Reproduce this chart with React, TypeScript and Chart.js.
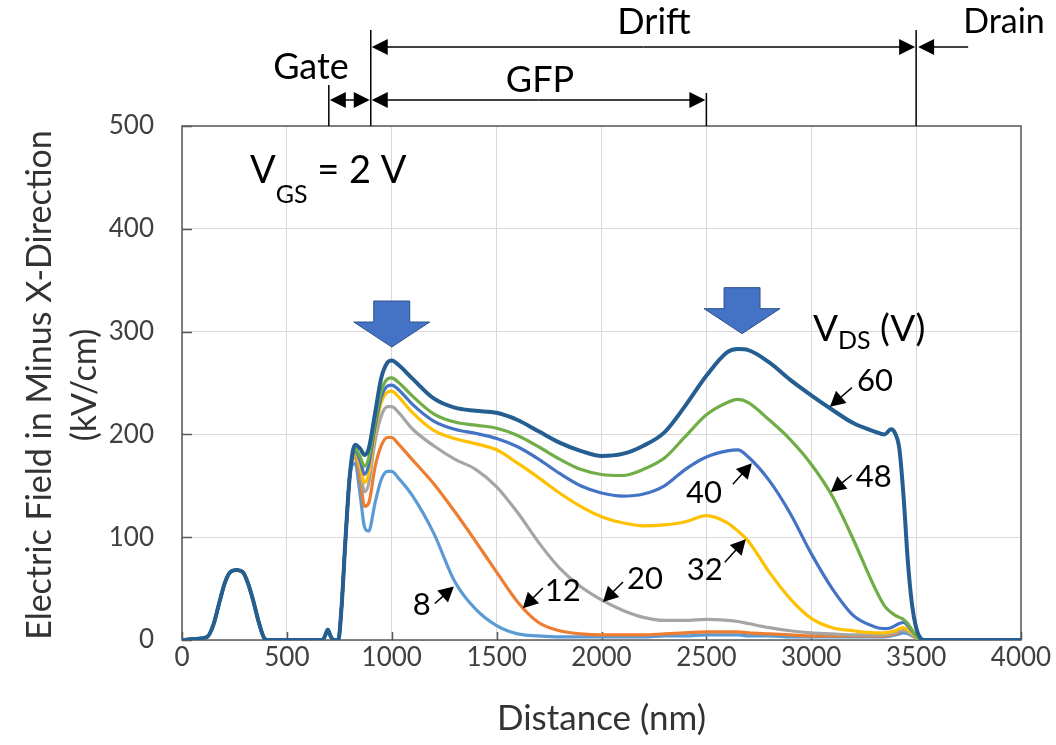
import React, { useEffect, useRef } from 'react';
import { Chart, registerables } from 'chart.js';

Chart.register(...registerables);

const FONT = 'Lato, "Open Sans", sans-serif';

// Shared part of every curve (source / gate region), nm and kV/cm
const distancePrefix = [0, 60, 120, 150, 180, 205, 230, 260, 290, 315, 340, 365, 395, 410, 500, 600, 670, 682, 695, 708, 722, 745, 760, 780, 800];
const fieldPrefix = [0, 1, 3, 15, 38, 56, 66, 68, 66, 55, 38, 18, 1, 0, 0, 0, 0, 4, 10, 4, 0, 0, 30, 100, 160];

// Drift region distances (nm)
const distanceMain = [825, 850, 870, 890, 920, 950, 980, 1000, 1030, 1100,
  1200, 1300, 1400, 1500, 1600, 1700, 1800, 1900, 2000, 2100,
  2200, 2300, 2400, 2500, 2600, 2650, 2700, 2800, 2900, 3000,
  3100, 3200, 3300, 3350, 3380, 3400, 3420, 3440, 3460, 3480,
  3500, 3520, 3540, 4000];

const field60 = [190, 186, 180, 186, 220, 255, 270, 272, 268, 254,
  235, 226, 223, 221, 214, 203, 192, 184, 179, 181,
  189, 202, 228, 257, 280, 283, 282, 270, 253, 238,
  224, 211, 203, 200, 205, 201, 186, 140, 78, 35,
  12, 2, 0, 0];
const field48 = [186, 178, 169, 177, 212, 242, 254, 255, 251, 237,
  220, 212, 209, 206, 199, 188, 176, 166, 161, 160,
  166, 177, 198, 219, 231, 234, 231, 214, 195, 171,
  140, 98, 52, 33, 27, 24, 22, 20, 16, 10,
  4, 0, 0, 0];
const field40 = [184, 174, 161, 170, 207, 236, 247, 248, 244, 229,
  213, 205, 201, 196, 188, 176, 162, 150, 143, 140,
  142, 150, 166, 178, 184, 185, 178, 155, 123, 84,
  50, 24, 13, 11, 12, 14, 16, 17, 14, 9,
  4, 0, 0, 0];
const field32 = [182, 169, 153, 162, 202, 231, 241, 242, 237, 221,
  204, 196, 191, 185, 172, 158, 143, 130, 120, 114,
  111, 112, 115, 121, 114, 106, 96, 66, 40, 21,
  12, 9, 7, 7, 8, 9, 11, 12, 10, 7,
  3, 0, 0, 0];
const field20 = [180, 165, 144, 152, 193, 218, 227, 227, 222, 205,
  189, 176, 166, 149, 124, 95, 70, 52, 39, 29,
  22, 19, 19, 20, 19, 18, 16, 12, 9, 7,
  6, 5, 5, 5, 6, 7, 9, 10, 8, 5,
  2, 0, 0, 0];
const field12 = [178, 156, 130, 133, 168, 189, 197, 197, 191, 175,
  152, 125, 96, 66, 37, 17, 9, 6, 5, 5,
  5, 6, 7, 8, 8, 8, 7, 6, 5, 4,
  4, 4, 4, 4, 5, 6, 8, 10, 8, 5,
  2, 0, 0, 0];
const field8 = [172, 140, 110, 106, 133, 156, 164, 164, 158, 140,
  104, 57, 30, 14, 6, 4, 3, 3, 3, 3,
  3, 4, 4, 5, 5, 5, 4, 4, 3, 3,
  3, 3, 3, 3, 4, 5, 6, 7, 6, 4,
  2, 0, 0, 0];

const vdsLabels = ['60', '48', '40', '32', '20', '12', '8'];
const seriesColors = ['#255E91', '#70AD47', '#4472C4', '#FFC000', '#A5A5A5', '#ED7D31', '#5B9BD5'];

const distanceTicks = [0, 500, 1000, 1500, 2000, 2500, 3000, 3500, 4000];
const fieldTicks = [0, 100, 200, 300, 400, 500];

const yTitleLines = ['Electric Field in Minus X-Direction', '(kV/cm)'];
const xTitle = 'Distance (nm)';

// Region boundaries (nm) for the top annotation
const gateStart = 700;
const driftStart = 900;
const gfpEnd = 2500;
const drainStart = 3500;

// Curve label annotations: arrow tip in data units, offsets in px
const curveNotes = [
  { text: '60', tx: 3089, ty: 227, tail: [22, -19], label: [45, -26] },
  { text: '48', tx: 3093, ty: 144, tail: [21, -17], label: [43, -15] },
  { text: '40', tx: 2717, ty: 172, tail: [-19, 21], label: [-48, 30] },
  { text: '32', tx: 2688, ty: 98, tail: [-21, 23], label: [-41, 31] },
  { text: '20', tx: 2007, ty: 37, tail: [20, -20], label: [42, -23] },
  { text: '12', tx: 1625, ty: 31, tail: [20, -20], label: [40, -17] },
  { text: '8', tx: 1296, ty: 52, tail: [-19, 17], label: [-32, 18] },
];

// Big block-arrow markers (tip position in data units)
const peakMarks = [
  { x: 1000, y: 285 },
  { x: 2670, y: 298 },
];

function arrow(ctx: CanvasRenderingContext2D, fx: number, fy: number, tx: number, ty: number, hl: number, hw: number, lw: number) {
  const ang = Math.atan2(ty - fy, tx - fx);
  const c = Math.cos(ang), s = Math.sin(ang);
  const bx = tx - hl * c, by = ty - hl * s;
  ctx.lineWidth = lw;
  ctx.beginPath();
  ctx.moveTo(fx, fy);
  ctx.lineTo(bx + c, by + s);
  ctx.stroke();
  ctx.beginPath();
  ctx.moveTo(tx, ty);
  ctx.lineTo(bx - hw * s, by + hw * c);
  ctx.lineTo(bx + hw * s, by - hw * c);
  ctx.closePath();
  ctx.fill();
}

const framePlugin = {
  id: 'frame',
  beforeDatasetsDraw(chart: any) {
    const { ctx, chartArea: a, scales } = chart;
    const xs = scales.x, ys = scales.y;
    ctx.save();
    ctx.strokeStyle = '#595959';
    ctx.lineWidth = 1.5;
    ctx.strokeRect(a.left, a.top, a.right - a.left, a.bottom - a.top);
    ctx.beginPath();
    for (const v of fieldTicks) {
      const py = Math.round(ys.getPixelForValue(v)) + 0.5;
      ctx.moveTo(a.left, py);
      ctx.lineTo(a.left + 10, py);
    }
    for (const v of distanceTicks) {
      const px = Math.round(xs.getPixelForValue(v)) + 0.5;
      ctx.moveTo(px, a.bottom);
      ctx.lineTo(px, a.bottom - 8);
    }
    ctx.stroke();

    // y axis title (two lines, rotated), centred on the plot area
    ctx.fillStyle = '#333';
    ctx.font = `34px ${FONT}`;
    ctx.textAlign = 'center';
    ctx.textBaseline = 'middle';
    ctx.translate(40, (a.top + a.bottom) / 2 + 2);
    ctx.rotate(-Math.PI / 2);
    ctx.fillText(yTitleLines[0], 0, 0);
    ctx.fillText(yTitleLines[1], 0, 45);
    ctx.restore();
  },
};

const annotationPlugin = {
  id: 'notes',
  afterDatasetsDraw(chart: any) {
    const { ctx, chartArea: a, scales } = chart;
    const xs = scales.x, ys = scales.y;
    ctx.save();

    // block arrows
    for (const m of peakMarks) {
      const x = xs.getPixelForValue(m.x);
      const t = ys.getPixelForValue(m.y);
      ctx.beginPath();
      ctx.moveTo(x - 18, t - 46);
      ctx.lineTo(x + 18, t - 46);
      ctx.lineTo(x + 18, t - 25);
      ctx.lineTo(x + 38, t - 25);
      ctx.lineTo(x, t);
      ctx.lineTo(x - 38, t - 25);
      ctx.lineTo(x - 18, t - 25);
      ctx.closePath();
      ctx.fillStyle = '#4472C4';
      ctx.fill();
      ctx.strokeStyle = '#2F528F';
      ctx.lineWidth = 1;
      ctx.stroke();
    }

    // curve labels
    ctx.fillStyle = '#000';
    ctx.strokeStyle = '#000';
    ctx.textAlign = 'center';
    ctx.textBaseline = 'middle';
    ctx.font = `31px ${FONT}`;
    for (const n of curveNotes) {
      const px = xs.getPixelForValue(n.tx);
      const py = ys.getPixelForValue(n.ty);
      arrow(ctx, px + n.tail[0], py + n.tail[1], px, py, 15, 8, 1.5);
      ctx.fillText(n.text, px + n.label[0], py + n.label[1]);
    }

    // VGS / VDS text with subscripts
    const drawSub = (x: number, base: number, main: string, sub: string, rest: string, size: number, subSize: number, subDrop: number) => {
      ctx.textAlign = 'left';
      ctx.textBaseline = 'alphabetic';
      ctx.font = `${size}px ${FONT}`;
      ctx.fillText(main, x, base);
      let cx = x + ctx.measureText(main).width;
      ctx.font = `${subSize}px ${FONT}`;
      ctx.fillText(sub, cx, base + subDrop);
      cx += ctx.measureText(sub).width;
      ctx.font = `${size}px ${FONT}`;
      ctx.fillText(rest, cx, base);
    };
    drawSub(250, 183, 'V', 'GS', ' = 2 V', 38, 25, 20);
    drawSub(813, 341, 'V', 'DS', ' (V)', 37, 25, 8);

    // top region annotation
    const gx = xs.getPixelForValue(gateStart);
    const dx = xs.getPixelForValue(driftStart);
    const fx = xs.getPixelForValue(gfpEnd);
    const rx = xs.getPixelForValue(drainStart);
    ctx.lineWidth = 1.5;
    ctx.beginPath();
    ctx.moveTo(gx, 85); ctx.lineTo(gx, a.top);
    ctx.moveTo(dx, 30); ctx.lineTo(dx, a.top);
    ctx.moveTo(fx, 93); ctx.lineTo(fx, a.top);
    ctx.moveTo(rx, 30); ctx.lineTo(rx, a.top);
    ctx.stroke();

    const mid = (p: number, q: number) => (p + q) / 2;
    arrow(ctx, mid(dx, rx), 47, dx + 1, 47, 16, 8, 1.5);
    arrow(ctx, mid(dx, rx), 47, rx - 1, 47, 16, 8, 1.5);
    arrow(ctx, rx + 52, 47, rx + 2, 47, 16, 8, 1.5);
    arrow(ctx, mid(gx, dx), 100, gx + 1, 100, 16, 8, 1.5);
    arrow(ctx, mid(gx, dx), 100, dx - 1, 100, 16, 8, 1.5);
    arrow(ctx, mid(dx, fx), 100, dx + 1, 100, 16, 8, 1.5);
    arrow(ctx, mid(dx, fx), 100, fx - 1, 100, 16, 8, 1.5);

    ctx.textAlign = 'center';
    ctx.textBaseline = 'middle';
    ctx.font = `36px ${FONT}`;
    ctx.fillText('Drift', 654, 22);
    ctx.font = `34px ${FONT}`;
    ctx.fillText('Drain', 1004, 22);
    ctx.font = `36px ${FONT}`;
    ctx.fillText('Gate', 311, 67);
    ctx.fillText('GFP', 540, 80);

    ctx.restore();
  },
};

export default function App() {
  const ref = useRef<HTMLCanvasElement>(null);
  useEffect(() => {
    const canvas = ref.current;
    if (!canvas) return;
    const mk = (d: number[]) => [
      ...distancePrefix.map((x, i) => ({ x, y: fieldPrefix[i] })),
      ...distanceMain.map((x, i) => ({ x, y: d[i] })),
    ];
    const seriesData = [field60, field48, field40, field32, field20, field12, field8];
    const chart = new Chart(canvas, {
      type: 'line',
      data: {
        datasets: seriesData.map((d, i) => ({
          label: vdsLabels[i] + ' V',
          data: mk(d),
          borderColor: seriesColors[i],
          backgroundColor: seriesColors[i],
          borderWidth: i === 0 ? 4 : 3.2,
          pointRadius: 0,
          cubicInterpolationMode: 'monotone' as const,
          fill: false,
        })),
      },
      options: {
        responsive: false,
        animation: false,
        layout: { padding: { top: 126, right: 35, left: 0, bottom: 0 } },
        plugins: { legend: { display: false }, tooltip: { enabled: false } },
        scales: {
          x: {
            type: 'linear',
            min: 0,
            max: 4000,
            afterBuildTicks: (s: any) => { s.ticks = distanceTicks.map((v) => ({ value: v })); },
            afterFit: (s: any) => { s.height = 105; },
            ticks: {
              callback: (v: any) => String(v),
              font: { family: FONT, size: 26 },
              color: '#404040',
              padding: 2,
              maxRotation: 0,
              autoSkip: false,
            },
            grid: { color: '#D9D9D9', lineWidth: 1, drawTicks: false },
            border: { display: false },
            title: {
              display: true,
              text: xTitle,
              font: { family: FONT, size: 35 },
              color: '#333',
              padding: { top: 0, bottom: 5 },
            },
          },
          y: {
            min: 0,
            max: 500,
            afterBuildTicks: (s: any) => { s.ticks = fieldTicks.map((v) => ({ value: v })); },
            afterFit: (s: any) => { s.width = 182; },
            ticks: {
              callback: (v: any) => String(v),
              font: { family: FONT, size: 26 },
              color: '#404040',
              padding: 28,
            },
            grid: { color: '#D9D9D9', lineWidth: 1, drawTicks: false },
            border: { display: false },
            title: { display: false },
          },
        },
      },
      plugins: [framePlugin, annotationPlugin],
    });
    return () => chart.destroy();
  }, []);
  return (
    <div style={{ position: 'fixed', left: 0, top: 0, width: 1056, height: 745, background: '#fff' }}>
      <canvas ref={ref} width={1056} height={745} style={{ display: 'block' }} />
    </div>
  );
}
